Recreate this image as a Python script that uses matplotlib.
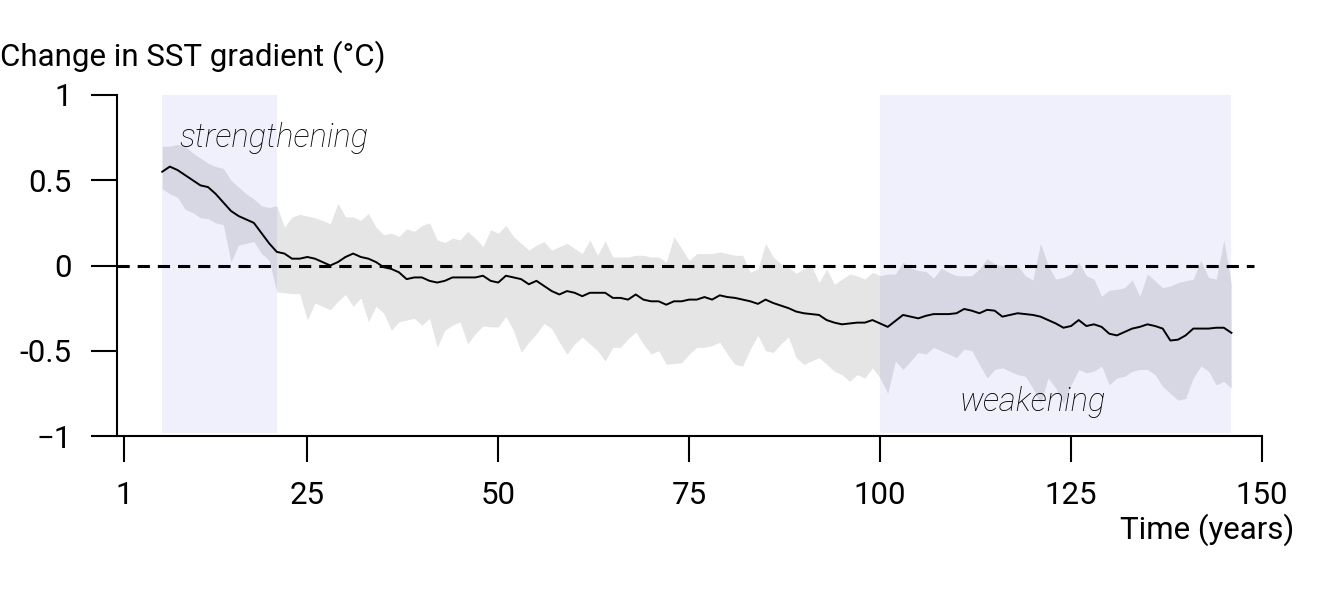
import numpy as np
import matplotlib
matplotlib.use("Agg")
import matplotlib.pyplot as plt

plt.rcParams['font.family'] = ['Roboto', 'DejaVu Sans']

# ensemble mean change in SST gradient, years 6..146
years = np.arange(6, 147)

sst_mean = [
    0.55, 0.58, 0.56, 0.53, 0.50, 0.47, 0.46, 0.42, 0.37, 0.32,
    0.29, 0.27, 0.25, 0.19, 0.13, 0.08, 0.07, 0.04, 0.04, 0.05,
    0.04, 0.02, 0.00, 0.02, 0.05, 0.07, 0.05, 0.04, 0.02, -0.01,
    -0.02, -0.04, -0.08, -0.07, -0.07, -0.09, -0.10, -0.09, -0.07, -0.07,
    -0.07, -0.07, -0.06, -0.09, -0.10, -0.06, -0.07, -0.08, -0.11, -0.09,
    -0.12, -0.15, -0.17, -0.15, -0.16, -0.18, -0.16, -0.16, -0.16, -0.19,
    -0.19, -0.20, -0.17, -0.20, -0.21, -0.21, -0.23, -0.21, -0.21, -0.20,
    -0.20, -0.185, -0.20, -0.175, -0.185, -0.19, -0.20, -0.21, -0.225, -0.20,
    -0.22, -0.235, -0.25, -0.27, -0.28, -0.285, -0.29, -0.32, -0.335, -0.345,
    -0.34, -0.335, -0.335, -0.32, -0.34, -0.36, -0.325, -0.29, -0.30, -0.31,
    -0.295, -0.285, -0.285, -0.285, -0.28, -0.255, -0.265, -0.28, -0.26, -0.265,
    -0.30, -0.29, -0.28, -0.285, -0.29, -0.30, -0.32, -0.34, -0.365, -0.355,
    -0.32, -0.355, -0.345, -0.36, -0.40, -0.41, -0.39, -0.37, -0.36, -0.345,
    -0.355, -0.37, -0.44, -0.435, -0.41, -0.37, -0.37, -0.37, -0.365, -0.365,
    -0.395,
]

sst_upper = [
    0.70, 0.70, 0.71, 0.70, 0.66, 0.63, 0.60, 0.58, 0.57, 0.50,
    0.46, 0.42, 0.39, 0.35, 0.34, 0.35, 0.225, 0.285, 0.30, 0.29,
    0.28, 0.265, 0.245, 0.365, 0.285, 0.285, 0.265, 0.305, 0.225, 0.18,
    0.19, 0.17, 0.215, 0.20, 0.235, 0.25, 0.15, 0.135, 0.16, 0.15,
    0.20, 0.16, 0.11, 0.21, 0.19, 0.235, 0.17, 0.13, 0.09, 0.12,
    0.14, 0.09, 0.11, 0.13, 0.10, 0.07, 0.15, 0.06, 0.145, 0.05,
    0.05, 0.05, 0.06, 0.06, 0.05, 0.05, 0.02, 0.17, 0.10, 0.03,
    0.07, 0.07, 0.07, 0.08, 0.07, 0.06, 0.06, -0.04, -0.02, 0.13,
    0.05, 0.01, -0.01, -0.045, -0.02, 0.00, -0.10, -0.02, -0.11, -0.08,
    -0.05, -0.06, -0.08, -0.04, -0.06, -0.05, -0.05, 0.02, -0.015, -0.03,
    -0.035, -0.075, -0.015, -0.04, -0.06, -0.06, -0.06, -0.02, 0.04, 0.01,
    0.00, 0.00, 0.00, -0.06, -0.085, 0.13, 0.00, -0.08, -0.07, -0.05,
    0.02, -0.06, -0.08, -0.18, -0.145, -0.14, -0.13, -0.085, -0.18, -0.05,
    -0.09, -0.13, -0.12, -0.10, -0.09, -0.08, 0.03, -0.07, -0.08, 0.15,
    -0.11,
]

sst_lower = [
    0.45, 0.42, 0.40, 0.33, 0.31, 0.28, 0.275, 0.25, 0.24, 0.02,
    0.12, 0.13, 0.14, 0.07, 0.03, -0.155, -0.16, -0.165, -0.165, -0.32,
    -0.22, -0.24, -0.26, -0.21, -0.17, -0.24, -0.19, -0.33, -0.24, -0.28,
    -0.38, -0.33, -0.32, -0.31, -0.35, -0.31, -0.48, -0.38, -0.35, -0.33,
    -0.46, -0.40, -0.355, -0.36, -0.36, -0.30, -0.38, -0.51, -0.45, -0.40,
    -0.34, -0.37, -0.45, -0.52, -0.46, -0.42, -0.46, -0.50, -0.56, -0.48,
    -0.48, -0.43, -0.39, -0.46, -0.52, -0.50, -0.58, -0.575, -0.57, -0.52,
    -0.48, -0.48, -0.47, -0.45, -0.52, -0.58, -0.59, -0.49, -0.41, -0.50,
    -0.51, -0.46, -0.42, -0.54, -0.58, -0.56, -0.54, -0.58, -0.62, -0.64,
    -0.68, -0.64, -0.66, -0.60, -0.66, -0.75, -0.56, -0.61, -0.56, -0.51,
    -0.52, -0.48, -0.50, -0.52, -0.54, -0.49, -0.50, -0.58, -0.66, -0.61,
    -0.60, -0.62, -0.64, -0.65, -0.72, -0.81, -0.66, -0.72, -0.81, -0.70,
    -0.61, -0.63, -0.62, -0.59, -0.70, -0.66, -0.65, -0.62, -0.61, -0.61,
    -0.64, -0.71, -0.75, -0.79, -0.78, -0.66, -0.59, -0.62, -0.70, -0.68,
    -0.72,
]

# highlighted periods (years)
strengthening_period = (6, 21)
weakening_period = (100, 146)

x_ticks = [1, 25, 50, 75, 100, 125, 150]
y_ticks = [-1, -0.5, 0, 0.5, 1]
y_tick_labels = ['\u22121', '-0.5', '0', '0.5', '1']

fig = plt.figure(figsize=(13.2, 5.95), dpi=100)
ax = fig.add_axes([117 / 1320, 159 / 595, (1262 - 117) / 1320, 341 / 595])

shade = '#F0F0FD'
for start, end in (strengthening_period, weakening_period):
    ax.fill_between([start, end], -0.98, 1.0, color=shade, lw=0, zorder=0)

ax.fill_between(years, sst_lower, sst_upper, color='black', alpha=0.1,
                lw=0, zorder=1)
ax.hlines(0, 0.08, 149, colors='black', linestyles=(0, (4, 2.6)), lw=2.2,
          zorder=2)
ax.plot(years, sst_mean, color='black', lw=1.4, zorder=3)

ax.text(8.3, 0.75, 'strengthening', fontsize=23.5, style='italic',
        fontweight='light', va='center', ha='left')
ax.text(110.4, -0.80, 'weakening', fontsize=23.5, style='italic',
        fontweight='light', va='center', ha='left')

ax.set_xlim(0.08, 150)
ax.set_ylim(-1, 1)

for side in ('top', 'right'):
    ax.spines[side].set_visible(False)
ax.spines['left'].set_bounds(-1, 1)
for side in ('left', 'bottom'):
    ax.spines[side].set_linewidth(1.5)

ax.set_xticks(x_ticks)
ax.set_yticks(y_ticks)
ax.set_yticklabels(y_tick_labels)
ax.tick_params(axis='both', direction='out', length=18.5, width=1.5,
               labelsize=22.5, colors='black')
ax.tick_params(axis='x', pad=14)
ax.tick_params(axis='y', pad=14)

fig.text(0, 1 - 57 / 595, 'Change in SST gradient (\u00b0C)',
         fontsize=22.5, ha='left', va='center')
fig.text(1294 / 1320, 1 - 530 / 595, 'Time (years)', fontsize=22.5,
         ha='right', va='center')

fig.savefig('out.png', dpi=100)
